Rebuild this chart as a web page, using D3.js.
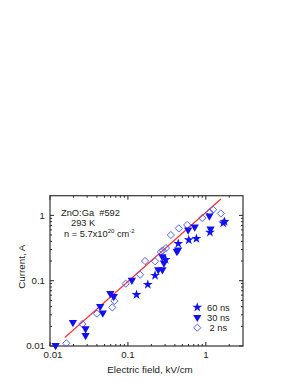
<!DOCTYPE html>
<html><head><meta charset="utf-8">
<script src="https://cdn.jsdelivr.net/npm/d3@7"></script>
<style>html,body{margin:0;padding:0;background:#fff;}svg{display:block;font-family:"Liberation Sans",Arial,sans-serif;}</style>
</head><body>
<svg id="c" width="295" height="382"></svg>
<script>
// 2 ns (open diamonds)
const x2ns = [0.0162, 0.026, 0.040, 0.063, 0.067, 0.0935, 0.1435, 0.166, 0.223, 0.265, 0.28, 0.308, 0.356, 0.45, 0.576, 0.90, 1.12, 1.24, 1.56];
const y2ns = [0.011, 0.0217, 0.0313, 0.039, 0.049, 0.090, 0.1235, 0.20, 0.198, 0.275, 0.29, 0.316, 0.50, 0.632, 0.713, 0.91, 1.11, 1.22, 1.07];
// 30 ns (filled down triangles)
const x30ns = [0.0118, 0.0197, 0.0286, 0.0286, 0.044, 0.0476, 0.0595, 0.0657, 0.1124, 0.245, 0.277, 0.277, 0.29, 0.425, 0.44, 0.593, 0.72, 1.11, 1.15];
const y30ns = [0.0102, 0.023, 0.0184, 0.0145, 0.0404, 0.032, 0.064, 0.0575, 0.102, 0.147, 0.147, 0.233, 0.187, 0.28, 0.295, 0.597, 0.664, 0.98, 0.62];
// 60 ns (filled stars)
const x60ns = [0.129, 0.18, 0.223, 0.305, 0.443, 0.604, 0.757, 1.13, 1.67, 1.74];
const y60ns = [0.061, 0.087, 0.12, 0.21, 0.37, 0.42, 0.44, 0.55, 0.76, 0.80];
// fit line endpoints
const fitX = [0.0155, 1.56];
const fitY = [0.0135, 1.78];
const xTicks = [0.01, 0.1, 1];
const xTickLabels = ["0.01", "0.1", "1"];
const yTicks = [0.01, 0.1, 1];
const yTickLabels = ["0.01", "0.1", "1"];
const legendLabels = ["60 ns", "30 ns", " 2 ns"];

const svg = d3.select("#c");
const L = 50, R = 243, T = 195.7, B = 346;
const x = d3.scaleLog().domain([0.01, 3]).range([L, R]);
const y = d3.scaleLog().domain([0.01, 2]).range([B, T]);
const blue = "#1010f0", lblue = "#4a5af5", red = "#ff2a2a", ink = "#222";

// minor ticks
const xMinor = [], yMinor = [];
[0.01, 0.1, 1].forEach(d => { for (let k = 2; k <= 9; k++) { const v = d * k; if (v < 3) xMinor.push(v); } });
[0.01, 0.1, 1].forEach(d => { for (let k = 2; k <= 9; k++) { const v = d * k; if (v < 2) yMinor.push(v); } });

const g = svg.append("g");
function xt(vals, len) {
  vals.forEach(v => {
    g.append("line").attr("x1", x(v)).attr("x2", x(v)).attr("y1", B).attr("y2", B - len).attr("stroke", ink).attr("stroke-width", 1);
    g.append("line").attr("x1", x(v)).attr("x2", x(v)).attr("y1", T).attr("y2", T + len).attr("stroke", ink).attr("stroke-width", 1);
  });
}
function yt(vals, len) {
  vals.forEach(v => {
    g.append("line").attr("y1", y(v)).attr("y2", y(v)).attr("x1", L).attr("x2", L + len).attr("stroke", ink).attr("stroke-width", 1);
    g.append("line").attr("y1", y(v)).attr("y2", y(v)).attr("x1", R).attr("x2", R - len).attr("stroke", ink).attr("stroke-width", 1);
  });
}
xt(xTicks, 4); xt(xMinor, 2); yt(yTicks, 4); yt(yMinor, 2);

g.append("rect").attr("x", L).attr("y", T).attr("width", R - L).attr("height", B - T)
  .attr("fill", "none").attr("stroke", "#333").attr("stroke-width", 1.2);

// tick labels
xTicks.forEach((v, i) => {
  g.append("text").attr("x", x(v) + (i === 0 ? 3 : 0)).attr("y", 357.5).attr("text-anchor", "middle")
    .attr("font-size", 9.7).attr("fill", ink).text(xTickLabels[i]);
});
yTicks.forEach((v, i) => {
  g.append("text").attr("x", 45).attr("y", y(v)).attr("dy", "0.35em").attr("text-anchor", "end")
    .attr("font-size", 9.7).attr("fill", ink).text(yTickLabels[i]);
});

// axis titles
g.append("text").attr("x", 150).attr("y", 372.5).attr("text-anchor", "middle").attr("font-size", 9.8).attr("fill", ink).text("Electric field, kV/cm");
g.append("text").attr("transform", "translate(25,266.7) rotate(-90)").attr("text-anchor", "middle").attr("font-size", 9.8).attr("fill", ink).text("Current, A");

// fit line
g.append("line").attr("x1", x(fitX[0])).attr("y1", y(fitY[0])).attr("x2", x(fitX[1])).attr("y2", y(fitY[1]))
  .attr("stroke", red).attr("stroke-width", 1.1);

const star = d3.symbol().type(d3.symbolStar).size(30);
const tri = d3.symbol().type(d3.symbolTriangle).size(30);
const dia = d3.symbol().type(d3.symbolSquare).size(26);

function drawStar(px, py) { g.append("path").attr("d", star()).attr("transform", `translate(${px},${py})`).attr("fill", blue); }
function drawTri(px, py) { g.append("path").attr("d", tri()).attr("transform", `translate(${px},${py}) rotate(180)`).attr("fill", blue); }
function drawDia(px, py) { g.append("path").attr("d", dia()).attr("transform", `translate(${px},${py}) rotate(45)`).attr("fill", "none").attr("stroke", lblue).attr("stroke-width", 0.9); }

x2ns.forEach((v, i) => drawDia(x(v), y(y2ns[i])));
x30ns.forEach((v, i) => drawTri(x(v), y(y30ns[i])));
x60ns.forEach((v, i) => drawStar(x(v), y(y60ns[i])));

// annotation
const ann = g.append("g").attr("font-size", 9.3).attr("fill", ink);
ann.append("text").attr("x", 61).attr("y", 215.5).attr("xml:space", "preserve").text("ZnO:Ga  #592");
ann.append("text").attr("x", 71).attr("y", 225.5).text("293 K");
const t3 = ann.append("text").attr("x", 64).attr("y", 236.5);
t3.append("tspan").text("n = 5.7x10");
t3.append("tspan").attr("font-size", 6).attr("dy", -3.5).text("20");
t3.append("tspan").attr("dy", 3.5).text(" cm");
t3.append("tspan").attr("font-size", 6).attr("dy", -3.5).text("-2");

// legend
const lx = 197.3, ly = [307.3, 317.3, 327.7];
drawStar(lx, ly[0]); drawTri(lx, ly[1]); drawDia(lx, ly[2]);
legendLabels.forEach((s, i) => {
  g.append("text").attr("x", 207).attr("y", ly[i]).attr("dy", "0.35em").attr("font-size", 9.3).attr("fill", ink)
    .attr("xml:space", "preserve").text(s);
});
</script>
</body></html>
